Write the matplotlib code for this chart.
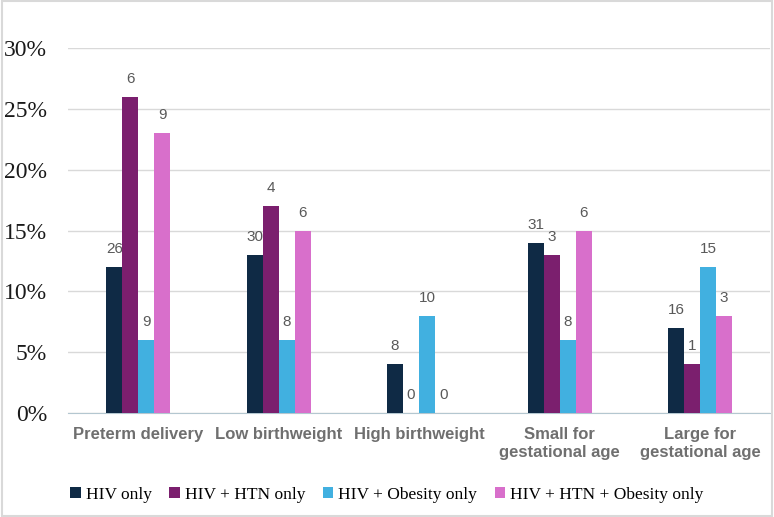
import numpy as np
import matplotlib.pyplot as plt
from matplotlib.ticker import PercentFormatter

categories = ['Preterm delivery', 'Low birthweight', 'High birthweight',
              'Small for\ngestational age', 'Large for\ngestational age']
series = ['HIV only', 'HIV + HTN only', 'HIV + Obesity only', 'HIV + HTN + Obesity only']
pct_hiv = [12, 13, 4, 14, 7]
pct_htn = [26, 17, 0, 13, 4]
pct_obes = [6, 6, 8, 6, 12]
pct_all = [23, 15, 0, 15, 8]
n_hiv = [26, 30, 8, 31, 16]
n_htn = [6, 4, 0, 3, 1]
n_obes = [9, 8, 10, 8, 15]
n_all = [9, 6, 0, 6, 3]

colors = ['#0f2a45', '#7b1f6e', '#41b0e0', '#d86fcb']

fig = plt.figure(figsize=(7.74, 5.17), dpi=100)
ax = fig.add_axes([0.088, 0.201, 0.907, 0.706])

x = np.arange(len(categories))
w = 0.114
values = [pct_hiv, pct_htn, pct_obes, pct_all]
counts = [n_hiv, n_htn, n_obes, n_all]
for i in range(4):
    pos = x + (i - 1.5) * w
    bars = ax.bar(pos, values[i], w, color=colors[i], label=series[i], zorder=3)
    for b, n in zip(bars, counts[i]):
        ax.text(b.get_x() + b.get_width() / 2, b.get_height() + 0.9, str(n),
                ha='center', va='bottom', fontsize=11, color='#595959',
                family='Liberation Sans')

ax.set_xlim(-0.5, 4.5)
ax.set_ylim(0, 30)
ax.set_yticks(range(0, 31, 5))
ax.yaxis.set_major_formatter(PercentFormatter(decimals=0))
ax.grid(axis='y', color='#d9d9d9', lw=1, zorder=0)
for s in ['top', 'right', 'left']:
    ax.spines[s].set_visible(False)
ax.spines['bottom'].set_color('#b4c7d0')
ax.tick_params(axis='both', length=0)
ax.tick_params(axis='y', pad=15)
ax.tick_params(axis='x', pad=10)
ax.set_xticks(x)
ax.set_xticklabels(categories, fontsize=12, fontweight='bold', color='#6f6f6f',
                   family='Liberation Sans', linespacing=1.25)
for t in ax.get_yticklabels():
    t.set_family('Liberation Serif')
    t.set_fontsize(17)
    t.set_color('#1a1a1a')

fig.legend(loc='center', bbox_to_anchor=(0.5, 0.043), ncol=4, frameon=False,
           prop={'family': 'Liberation Serif', 'size': 12.5},
           handlelength=0.6, handleheight=0.6, handletextpad=0.3, columnspacing=1.0)

fig.patches.append(plt.Rectangle((0.002, 0.002), 0.996, 0.996, transform=fig.transFigure,
                                 fill=False, edgecolor='#d9d9d9', lw=1.5))
fig.savefig('out.png', dpi=100)
